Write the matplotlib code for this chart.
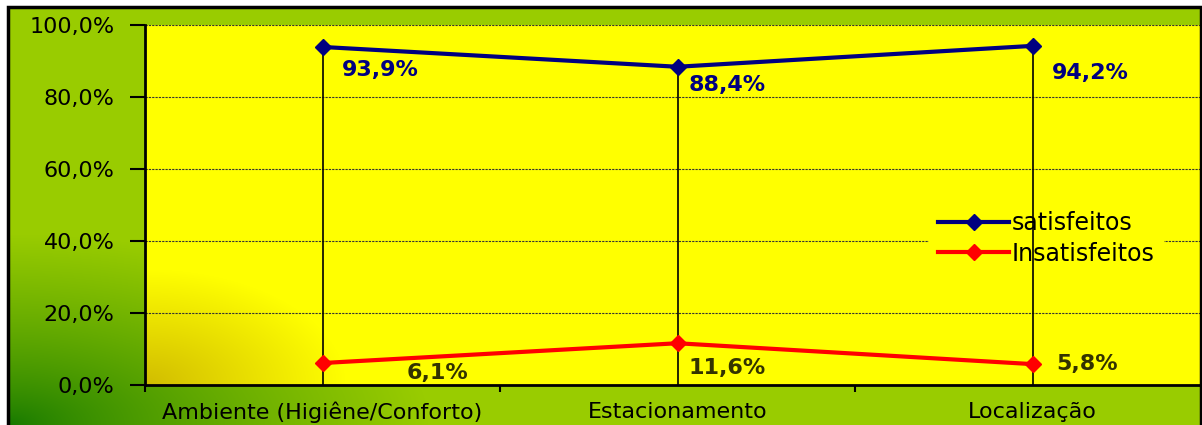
import numpy as np
import matplotlib
matplotlib.use("Agg")
import matplotlib.pyplot as plt
from matplotlib.ticker import FuncFormatter, FixedLocator
from matplotlib.patches import Rectangle

categories = ["Ambiente (Higiêne/Conforto)", "Estacionamento", "Localização"]
satisfeitos = [93.9, 88.4, 94.2]
insatisfeitos = [6.1, 11.6, 5.8]

plt.rcParams["font.family"] = ["DejaVu Sans"]


def pct(v):
    return f"{v:.1f}%".replace(".", ",")


def radial(shape, dark, light, rx, ry, gamma):
    # gradient from bottom-left corner, sizes in pixels
    h, w = shape
    yy, xx = np.mgrid[0:h, 0:w]
    d = np.sqrt((xx / rx) ** 2 + ((h - 1 - yy) / ry) ** 2)
    t = (np.clip(d, 0, 1) ** gamma)[..., None]
    return np.array(dark) * (1 - t) + np.array(light) * t


W, H = 1202, 425
fig = plt.figure(figsize=(W / 100, H / 100), dpi=100)
fig.patch.set_facecolor("white")

# outer background
bg = fig.add_axes([8 / W, 0, (1201 - 8) / W, (425 - 7) / H])
bg.imshow(radial((418, 1193), (0.08, 0.47, 0.0), (0.60, 0.80, 0.0), 420, 190, 0.75),
          aspect="auto", extent=[0, 1, 0, 1], interpolation="bilinear")
bg.set_axis_off()
fig.patches.append(Rectangle((8 / W, -0.01), (1200.5 - 8) / W, (425 - 7) / H + 0.01,
                             transform=fig.transFigure, fill=False,
                             edgecolor="black", linewidth=2.5, zorder=10))

ax = fig.add_axes([145 / W, 40 / H, (1210 - 145) / W, 360 / H])
ax.set_facecolor("none")
x = np.arange(len(categories))
ax.set_xlim(-0.5, 2.5)
ax.set_ylim(0, 100)

ax.imshow(radial((360, 1065), (0.82, 0.74, 0.0), (1.0, 1.0, 0.0), 200, 115, 1.0),
          aspect="auto", extent=[-0.5, 2.5, 0, 100], interpolation="bilinear",
          zorder=0)

ax.set_axisbelow(True)
ax.yaxis.grid(True, color="#333333", linestyle=(0, (2, 1)), linewidth=0.8, zorder=1)

# drop lines
for xi, v in zip(x, satisfeitos):
    ax.plot([xi, xi], [0, v], color="black", linewidth=1.2, zorder=4)

ax.plot(x, satisfeitos, color="#000080", linewidth=3, marker="D",
        markersize=8, label="satisfeitos", zorder=5)
ax.plot(x, insatisfeitos, color="#FF0000", linewidth=3, marker="D",
        markersize=8, label="Insatisfeitos", zorder=5)

sat_off = [(58, -23), (50, -18), (58, -27)]
ins_off = [(115, -10), (50, -25), (55, 0)]
for xi, v, off in zip(x, satisfeitos, sat_off):
    ax.annotate(pct(v), (xi, v), xytext=off, textcoords="offset pixels",
                ha="center", va="center", fontsize=16, fontweight="bold",
                color="#000080", zorder=6)
for xi, v, off in zip(x, insatisfeitos, ins_off):
    ax.annotate(pct(v), (xi, v), xytext=off, textcoords="offset pixels",
                ha="center", va="center", fontsize=16, fontweight="bold",
                color="#333300", zorder=6)

ax.yaxis.set_major_locator(FixedLocator([0, 20, 40, 60, 80, 100]))
ax.yaxis.set_major_formatter(FuncFormatter(lambda v, p: pct(v)))
ax.set_xticks(x)
ax.set_xticklabels(categories)
ax.set_xticks([-0.5, 0.5, 1.5, 2.5], minor=True)
ax.tick_params(axis="x", which="major", length=0, pad=12, labelsize=16)
ax.tick_params(axis="x", which="minor", length=5, width=1.5, color="black")
ax.tick_params(axis="y", length=11, width=1.5, pad=11, labelsize=16)

for s in ["top", "right"]:
    ax.spines[s].set_visible(False)
ax.spines["left"].set_linewidth(2)
ax.spines["bottom"].set_linewidth(2)

leg = ax.legend(loc="upper left", bbox_to_anchor=(772 / 1065, 195 / 360),
                frameon=True, fontsize=17, handlelength=3.0, handletextpad=0.1,
                borderpad=0.4, labelspacing=0.27)
leg.get_frame().set_facecolor("#FFFF00")
leg.get_frame().set_edgecolor("none")
leg.get_frame().set_alpha(1)
leg.set_zorder(3)

fig.savefig("out.png", dpi=100, facecolor=fig.get_facecolor())
